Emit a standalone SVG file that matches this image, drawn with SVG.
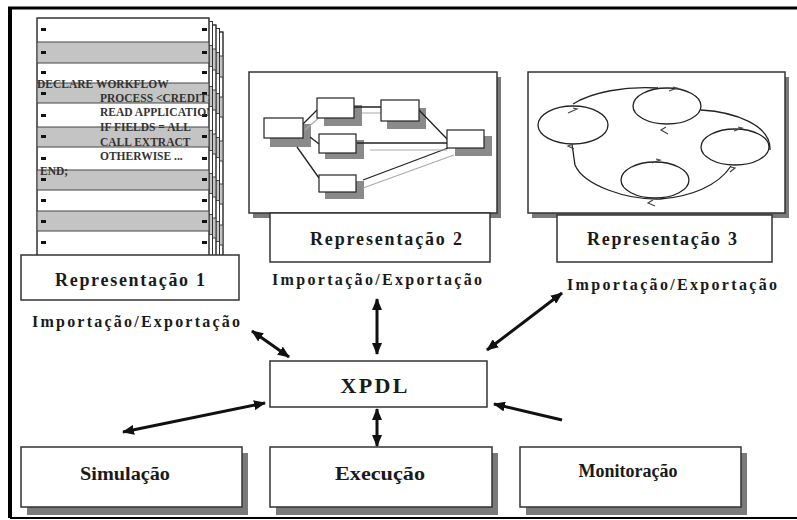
<svg xmlns="http://www.w3.org/2000/svg" xmlns:xlink="http://www.w3.org/1999/xlink" width="797" height="520" viewBox="0 0 797 520">
<style>
text{font-family:"Liberation Serif","DejaVu Serif","Noto Serif",serif}
.t{font-weight:bold;fill:#1a1a1a}
.box{fill:#fff;stroke:#333;stroke-width:1.5}
.shadow{fill:#7a7a7a}
.mini{fill:#fff;stroke:#222;stroke-width:1.2}
.minish{fill:#8a8a8a}
.ml{stroke:#222;stroke-width:1.3;fill:none}
.mg{stroke:#aaa;stroke-width:1.2;fill:none}
.ell{fill:none;stroke:#222;stroke-width:1.3}
.tick{fill:none;stroke:#444;stroke-width:1.2}
.arr{stroke:#111;stroke-width:3;fill:none}
.code{font-weight:bold;font-size:11.5px;fill:#333}
</style>
<defs>
<marker id="ah" viewBox="0 0 12 10" refX="11" refY="5" markerWidth="12" markerHeight="10" markerUnits="userSpaceOnUse" orient="auto-start-reverse">
<path d="M0,0 L12,5 L0,10 Z" fill="#111"/>
</marker>
<clipPath id="pageclip"><rect x="37" y="18" width="172" height="238"/></clipPath>
<g id="page">
<rect x="37" y="18" width="172" height="238" fill="#fff" stroke="#333" stroke-width="1"/>
<rect x="37" y="42" width="172" height="21" fill="#c4c4c4"/>
<rect x="37" y="83" width="172" height="20" fill="#c4c4c4"/>
<rect x="37" y="127" width="172" height="20" fill="#c4c4c4"/>
<rect x="37" y="170" width="172" height="20" fill="#c4c4c4"/>
<rect x="37" y="211" width="172" height="20" fill="#c4c4c4"/>
<path d="M37,42H209M37,63H209M37,83H209M37,103H209M37,127H209M37,147H209M37,170H209M37,190H209M37,211H209M37,231H209" stroke="#444" stroke-width="1"/>
<rect x="37" y="18" width="172" height="238" fill="none" stroke="#333" stroke-width="1"/>
</g>
</defs>

<!-- frame -->
<g id="frame">
<path d="M10,7 V518" stroke="#000" stroke-width="4"/>
<path d="M8,8 H797" stroke="#000" stroke-width="3"/>
<path d="M10,518 H797" stroke="#000" stroke-width="2"/>
</g>

<!-- Representacao 1 -->
<g id="rep1">
<use xlink:href="#page" transform="translate(14,14)"/>
<use xlink:href="#page" transform="translate(10.5,10.5)"/>
<use xlink:href="#page" transform="translate(7,7)"/>
<use xlink:href="#page" transform="translate(3.5,3.5)"/>
<use xlink:href="#page"/>
<g fill="#111">
<rect x="41" y="28" width="5" height="3"/><rect x="202" y="28" width="5" height="3"/>
<rect x="41" y="51" width="5" height="3"/><rect x="202" y="51" width="5" height="3"/>
<rect x="41" y="71" width="5" height="3"/><rect x="202" y="71" width="5" height="3"/>
<rect x="41" y="92" width="5" height="3"/><rect x="202" y="92" width="5" height="3"/>
<rect x="41" y="114" width="5" height="3"/><rect x="202" y="114" width="5" height="3"/>
<rect x="41" y="135" width="5" height="3"/><rect x="202" y="135" width="5" height="3"/>
<rect x="41" y="157" width="5" height="3"/><rect x="202" y="157" width="5" height="3"/>
<rect x="41" y="178" width="5" height="3"/><rect x="202" y="178" width="5" height="3"/>
<rect x="41" y="199" width="5" height="3"/><rect x="202" y="199" width="5" height="3"/>
<rect x="41" y="220" width="5" height="3"/><rect x="202" y="220" width="5" height="3"/>
<rect x="41" y="241" width="5" height="3"/><rect x="202" y="241" width="5" height="3"/>
</g>
<g clip-path="url(#pageclip)">
<text class="code" x="37" y="88">DECLARE WORKFLOW</text>
<text class="code" x="100" y="102">PROCESS &lt;CREDIT&gt;</text>
<text class="code" x="100" y="116">READ APPLICATION</text>
<text class="code" x="100" y="131">IF FIELDS = ALL</text>
<text class="code" x="100" y="146">CALL EXTRACT</text>
<text class="code" x="100" y="160">OTHERWISE ...</text>
<text class="code" x="40" y="175">END;</text>
</g>
<rect class="box" x="21" y="255" width="218" height="45"/>
<text class="t" x="130" y="286" font-size="18" text-anchor="middle" textLength="150" lengthAdjust="spacing">Representação 1</text>
<text class="t" x="136" y="327" font-size="16" text-anchor="middle" textLength="208" lengthAdjust="spacing">Importação/Exportação</text>
</g>

<!-- Representacao 2 -->
<g id="rep2">
<rect class="shadow" x="253" y="77" width="248" height="141"/>
<rect class="box" x="249" y="72" width="248" height="141"/>
<g id="rep2-mini">
<rect class="minish" x="270" y="124" width="41" height="23"/>
<rect class="minish" x="324" y="105" width="38" height="21"/>
<rect class="minish" x="387" y="108" width="39" height="21"/>
<rect class="minish" x="325" y="140" width="39" height="19"/>
<rect class="minish" x="325" y="181" width="39" height="18"/>
<rect class="minish" x="455" y="136" width="37" height="20"/>
<path class="ml" d="M303,124 L317,110 M310,137 L319,144 M297,147 L319,178 M354,107 H381 M419,110 L448,140 M357,143 H447 M363,180 L448,148"/>
<path class="mg" d="M305,130 L322,115 M362,113 H388 M370,150 H447 M363,188 L454,155"/>
<rect class="mini" x="264" y="118" width="39" height="20"/>
<rect class="mini" x="317" y="98" width="37" height="20"/>
<rect class="mini" x="381" y="100" width="38" height="21"/>
<rect class="mini" x="319" y="134" width="37" height="19"/>
<rect class="mini" x="319" y="175" width="37" height="17"/>
<rect class="mini" x="447" y="130" width="37" height="18"/>
</g>
<rect class="box" x="270" y="213" width="220" height="49"/>
<text class="t" x="386" y="245" font-size="18" text-anchor="middle" textLength="152" lengthAdjust="spacing">Representação 2</text>
<text class="t" x="377" y="285" font-size="16" text-anchor="middle" textLength="210" lengthAdjust="spacing">Importação/Exportação</text>
</g>

<!-- Representacao 3 -->
<g id="rep3">
<rect class="shadow" x="532" y="77" width="257" height="141"/>
<rect class="box" x="528" y="72" width="257" height="141"/>
<g id="rep3-mini">
<path class="ell" d="M573,104 C592,92 625,86 658,88 M701,110 C735,112 771,125 770,150 M731,166 C718,186 690,197 660,199 C628,200 584,186 575,165 L572,144"/>
<ellipse class="ell" cx="573" cy="125" rx="35" ry="19"/>
<ellipse class="ell" cx="667" cy="106" rx="34" ry="18"/>
<ellipse class="ell" cx="735" cy="147" rx="34" ry="18"/>
<ellipse class="ell" cx="655" cy="180" rx="34" ry="18"/>
<path class="tick" d="M568,113 L577,109 L573,108 M669,91 L677,88 L673,87 M668,134 L661,130 L666,127 M734,131 L742,128 L738,127 M574,149 L568,146 L573,144 M652,163 L660,160 L656,159 M730,172 L735,168 L731,167 M655,206 L648,203 L653,200"/>
</g>
<rect class="box" x="557" y="215" width="215" height="47"/>
<text class="t" x="662" y="245" font-size="18" text-anchor="middle" textLength="150" lengthAdjust="spacing">Representação 3</text>
<text class="t" x="672" y="290" font-size="16" text-anchor="middle" textLength="210" lengthAdjust="spacing">Importação/Exportação</text>
</g>

<!-- XPDL -->
<g id="xpdl">
<rect class="box" x="270" y="361" width="217" height="46"/>
<text class="t" x="374" y="393" font-size="22" text-anchor="middle" textLength="67" lengthAdjust="spacing">XPDL</text>
</g>

<!-- bottom nodes -->
<g id="simulacao">
<rect class="shadow" x="27" y="453" width="221" height="62"/>
<rect class="box" x="21" y="447" width="221" height="60"/>
<text class="t" x="125" y="480" font-size="18" text-anchor="middle" textLength="90" lengthAdjust="spacingAndGlyphs">Simulação</text>
</g>
<g id="execucao">
<rect class="shadow" x="276" y="453" width="222" height="62"/>
<rect class="box" x="270" y="447" width="222" height="60"/>
<text class="t" x="380" y="480" font-size="18" text-anchor="middle" textLength="90" lengthAdjust="spacingAndGlyphs">Execução</text>
</g>
<g id="monitoracao">
<rect class="shadow" x="526" y="453" width="221" height="62"/>
<rect class="box" x="520" y="447" width="221" height="60"/>
<text class="t" x="628" y="477" font-size="18" text-anchor="middle" textLength="99" lengthAdjust="spacingAndGlyphs">Monitoração</text>
</g>

<!-- connectors -->
<g id="connectors">
<line class="arr" x1="252" y1="331" x2="289" y2="357" marker-start="url(#ah)" marker-end="url(#ah)"/>
<line class="arr" x1="377" y1="299" x2="377" y2="354" marker-start="url(#ah)" marker-end="url(#ah)"/>
<line class="arr" x1="562" y1="293" x2="487" y2="350" marker-start="url(#ah)" marker-end="url(#ah)"/>
<line class="arr" x1="123" y1="432" x2="265" y2="403" marker-start="url(#ah)" marker-end="url(#ah)"/>
<line class="arr" x1="377" y1="409" x2="377" y2="446" marker-start="url(#ah)" marker-end="url(#ah)"/>
<line class="arr" x1="562" y1="420" x2="494" y2="404" marker-end="url(#ah)"/>
</g>
</svg>
